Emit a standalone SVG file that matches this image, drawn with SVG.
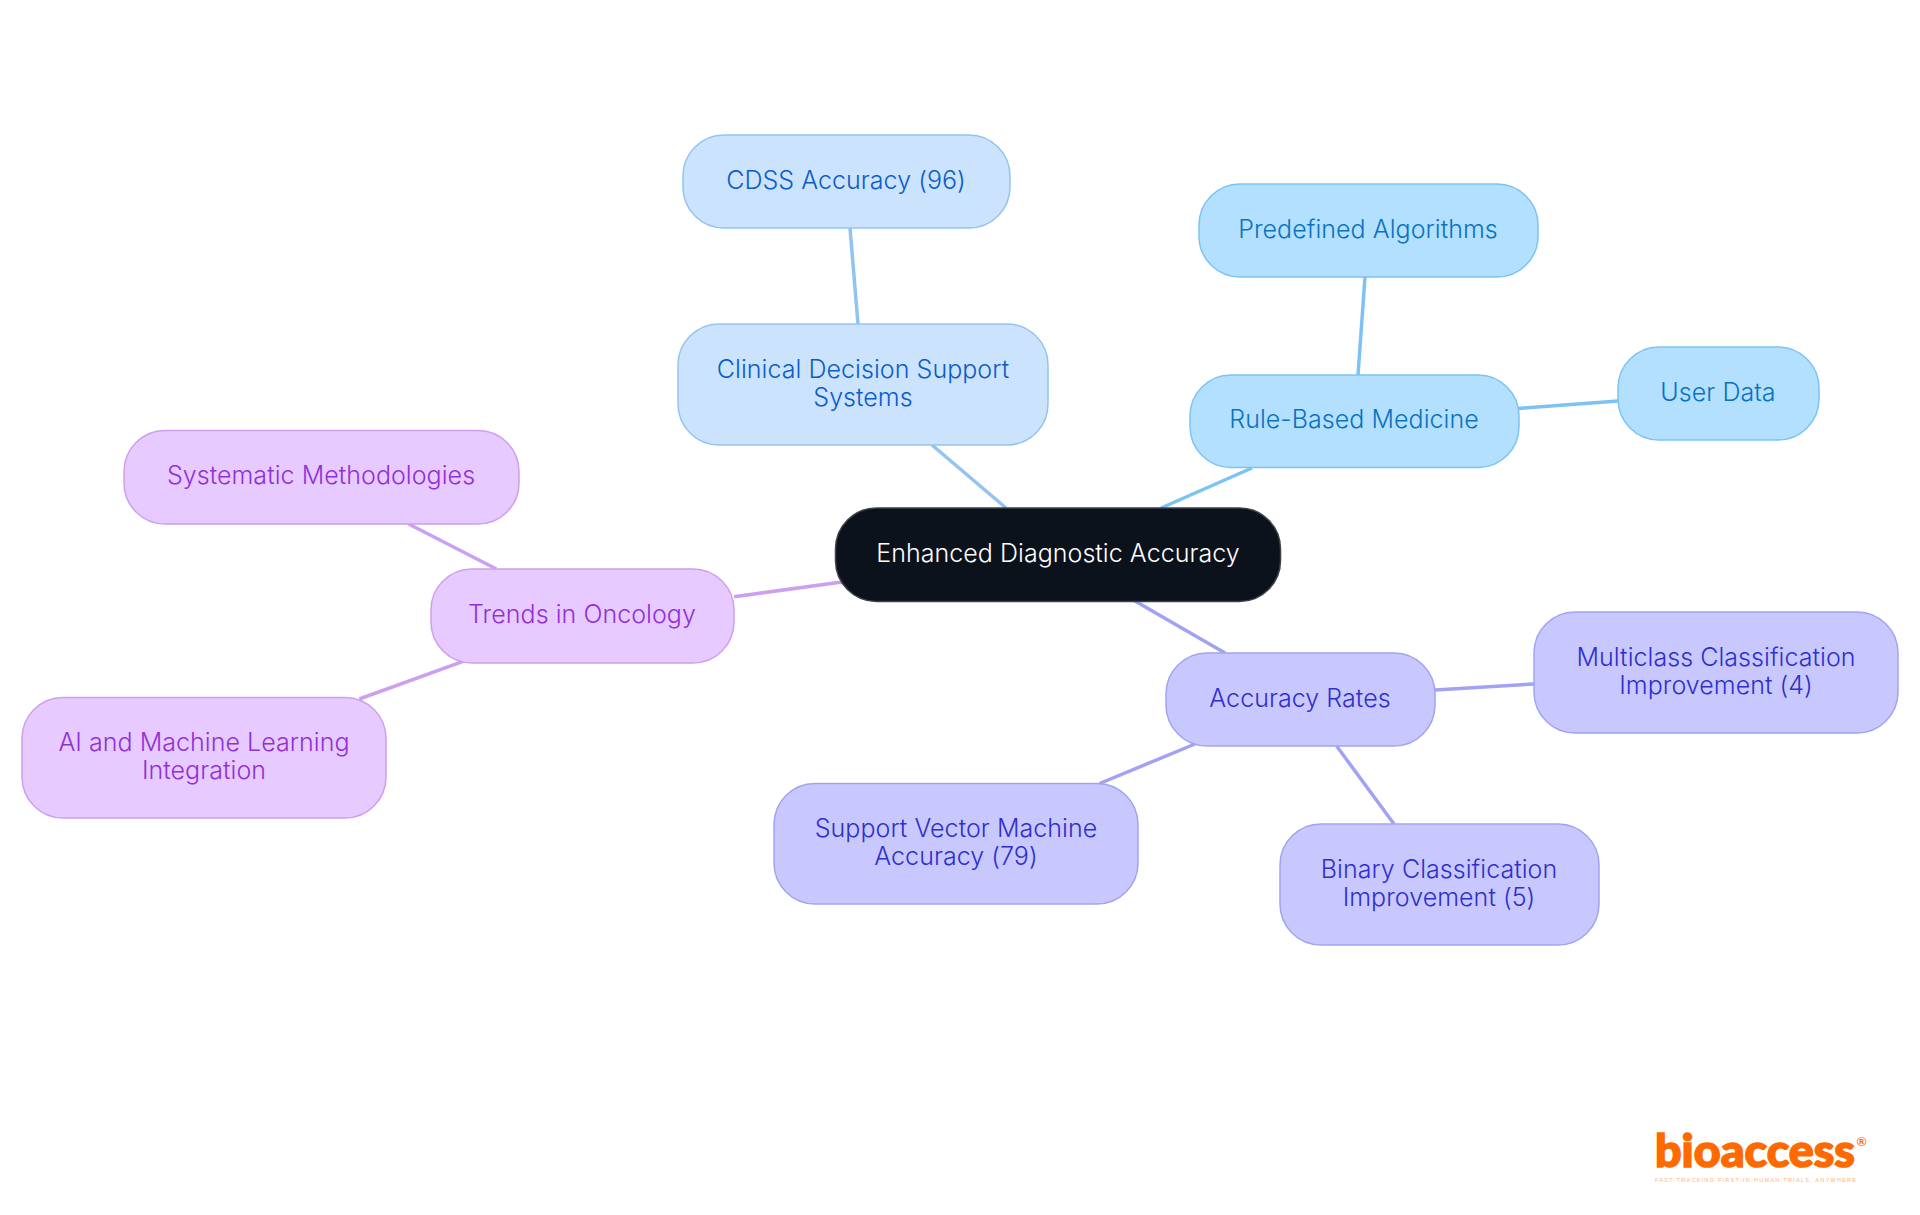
<svg xmlns="http://www.w3.org/2000/svg" width="1920" height="1215" viewBox="0 0 1920 1215">
<style>
text{font-family:"Inter","Noto Sans","Liberation Sans",sans-serif;font-size:25px;font-weight:350;text-anchor:middle;letter-spacing:0.05px}
.n{stroke-width:1.5}
.c line{stroke-width:3.5;fill:none}
.a rect{fill:#cce3fd;stroke:#93c3f1}.a text{fill:#0b5ccb}
.b rect{fill:#b3e0ff;stroke:#7cc3f4}.b text{fill:#0a72c2}
.d rect{fill:#c8c8ff;stroke:#a2a2f2}.d text{fill:#2f2fcf}
.e rect{fill:#e7caff;stroke:#cd9ff0}.e text{fill:#9130da}
.ca{stroke:#93c3f1}.cb{stroke:#7cc3f4}.cd{stroke:#a2a2f2}.ce{stroke:#cd9ff0}
</style>
<rect width="1920" height="1215" fill="#ffffff"/>
<g id="connectors" class="c">
<line class="ca" x1="932" y1="445" x2="1006" y2="508"/>
<line class="ca" x1="850" y1="228" x2="858" y2="324"/>
<line class="cb" x1="1161" y1="508" x2="1252" y2="468"/>
<line class="cb" x1="1365" y1="277" x2="1358" y2="375"/>
<line class="cb" x1="1519" y1="408.4" x2="1618" y2="401"/>
<line class="cd" x1="1135" y1="601" x2="1225" y2="653"/>
<line class="cd" x1="1435" y1="690" x2="1534" y2="684"/>
<line class="cd" x1="1336.6" y1="746" x2="1394" y2="824"/>
<line class="cd" x1="1195" y1="744" x2="1099.6" y2="783.5"/>
<line class="ce" x1="734" y1="596.7" x2="842" y2="582"/>
<line class="ce" x1="496.4" y1="569" x2="408.7" y2="524"/>
<line class="ce" x1="462.4" y1="661.7" x2="359.3" y2="699"/>
</g>
<g id="root"><rect class="n" x="835.5" y="508" width="445" height="93.5" rx="41" fill="#0b121b" stroke="#3d4248"/><text x="1058" y="562" fill="#ffffff">Enhanced Diagnostic Accuracy</text></g>
<g id="clinical" class="a"><rect class="n" x="678" y="324" width="370" height="121" rx="41"/><text x="863" y="378">Clinical Decision Support</text><text x="863" y="406">Systems</text></g>
<g id="cdss" class="a"><rect class="n" x="683" y="135" width="327" height="93" rx="41"/><text x="846" y="189">CDSS Accuracy (96)</text></g>
<g id="rule" class="b"><rect class="n" x="1190" y="375" width="329" height="92.500" rx="41"/><text x="1354" y="428">Rule-Based Medicine</text></g>
<g id="predefined" class="b"><rect class="n" x="1199" y="184" width="339" height="93" rx="41"/><text x="1368" y="238">Predefined Algorithms</text></g>
<g id="user" class="b"><rect class="n" x="1618" y="347" width="201" height="93" rx="41"/><text x="1718" y="401">User Data</text></g>
<g id="accuracy" class="d"><rect class="n" x="1166" y="653" width="269" height="93" rx="41"/><text x="1300" y="707">Accuracy Rates</text></g>
<g id="multiclass" class="d"><rect class="n" x="1534" y="612" width="364" height="121" rx="41"/><text x="1716" y="666">Multiclass Classification</text><text x="1716" y="693.500">Improvement (4)</text></g>
<g id="binary" class="d"><rect class="n" x="1280" y="824" width="319" height="121" rx="41"/><text x="1439" y="878">Binary Classification</text><text x="1439" y="906">Improvement (5)</text></g>
<g id="svm" class="d"><rect class="n" x="774" y="783.500" width="364" height="120.500" rx="41"/><text x="956" y="837">Support Vector Machine</text><text x="956" y="865">Accuracy (79)</text></g>
<g id="trends" class="e"><rect class="n" x="431" y="569" width="303" height="94" rx="41"/><text x="582" y="623">Trends in Oncology</text></g>
<g id="systematic" class="e"><rect class="n" x="124" y="430.500" width="395" height="93.500" rx="41"/><text x="321" y="484">Systematic Methodologies</text></g>
<g id="ai" class="e"><rect class="n" x="22" y="697.500" width="364" height="120.500" rx="41"/><text x="204" y="751">AI and Machine Learning</text><text x="204" y="779">Integration</text></g>
<g id="logo">
<text x="1655" y="1167" textLength="200" lengthAdjust="spacingAndGlyphs" stroke="#ff6a00" stroke-width="1.6" style="font-family:'Lato','Liberation Sans',sans-serif;font-weight:900;font-size:46px;text-anchor:start;letter-spacing:0" fill="#ff6a00">bioaccess</text>
<text x="1861.500" y="1146" style="font-family:'Liberation Sans',sans-serif;font-size:13px;font-weight:700;letter-spacing:0" fill="#ff6a00">®</text>
<text x="1655" y="1181.500" textLength="201" style="font-family:'Liberation Sans',sans-serif;font-size:5.500px;font-weight:400;text-anchor:start;letter-spacing:0" fill="#ffb27a">FAST-TRACKING FIRST-IN-HUMAN TRIALS, ANYWHERE</text>
</g>
</svg>
